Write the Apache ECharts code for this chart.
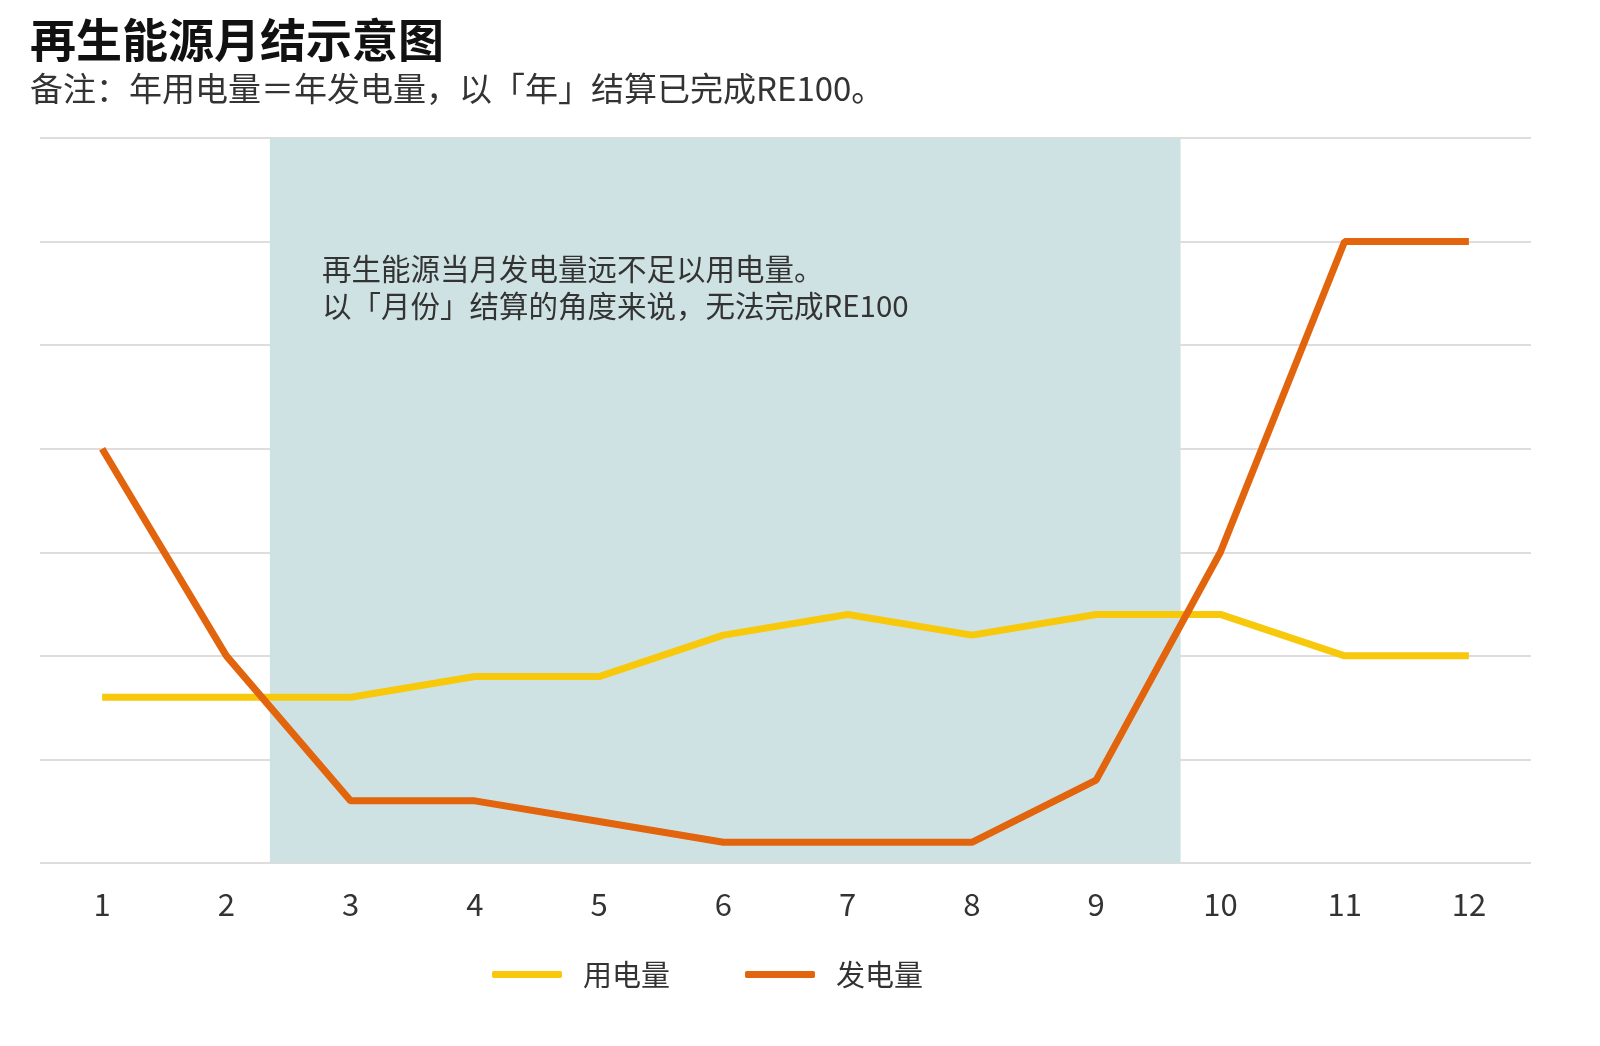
<!DOCTYPE html>
<html><head><meta charset="utf-8">
<script src="https://cdn.jsdelivr.net/npm/echarts@6/dist/echarts.min.js"></script>
<style>html,body{margin:0;padding:0;background:#fff}#c{width:1600px;height:1046px}</style>
</head><body><div id="c"></div>
<script>
const months = ['1','2','3','4','5','6','7','8','9','10','11','12'];
const usage = [1.6,1.6,1.6,1.8,1.8,2.2,2.4,2.2,2.4,2.4,2.0,2.0];
const generation = [4.0,2.0,0.6,0.6,0.4,0.2,0.2,0.2,0.8,3.0,6.0,6.0];
const shadeRange = [2.35, 9.68];
const seriesNames = ['用电量','发电量'];
const titleText = '再生能源月结示意图';
const subText = '备注：年用电量＝年发电量，以「年」结算已完成RE100。';
const noteText = '再生能源当月发电量远不足以用电量。\n以「月份」结算的角度来说，无法完成RE100';

const font = '"Noto Sans CJK SC","Noto Sans",sans-serif';
const chart = echarts.init(document.getElementById('c'));
chart.setOption({
  backgroundColor:'#fff',
  animation:false,
  textStyle:{fontFamily:font},
  title:[
    {text:titleText,left:25,top:10,textStyle:{fontSize:46,fontWeight:'bold',color:'#111',lineHeight:50,fontFamily:font}},
    {text:subText,left:25,top:66,textStyle:{fontSize:33,fontWeight:'normal',color:'#333',lineHeight:34,fontFamily:font}},
    {text:noteText,left:317,top:245,textStyle:{fontSize:29.5,fontWeight:'normal',color:'#333',lineHeight:37,fontFamily:font}}
  ],
  legend:{
    data:seriesNames,top:955,left:487,itemWidth:70,itemHeight:7,itemGap:75,
    icon:'roundRect',
    textStyle:{fontSize:29,color:'#333',fontFamily:font,padding:[0,0,0,16]}
  },
  grid:{left:40,right:69,top:138,bottom:183},
  xAxis:[
    {type:'category',data:months,boundaryGap:true,
     axisLine:{show:false},axisTick:{show:false},
     axisLabel:{fontSize:31,color:'#333',margin:26,fontFamily:font}},
    {type:'value',min:0.5,max:12.5,show:false}
  ],
  yAxis:{type:'value',min:0,max:7,interval:1,
    axisLabel:{show:false},axisLine:{show:false},axisTick:{show:false},
    splitLine:{lineStyle:{color:'#e0dcdc',width:2}}},
  series:[
    {type:'line',name:'shade',xAxisIndex:1,data:[],z:-1,silent:true,
     markArea:{silent:true,itemStyle:{color:'#cfe2e3'},
       data:[[{xAxis:shadeRange[0]},{xAxis:shadeRange[1]}]]}},
    {type:'line',name:seriesNames[0],data:usage,symbol:'none',
     lineStyle:{color:'#f8c80a',width:7},itemStyle:{color:'#f8c80a'}},
    {type:'line',name:seriesNames[1],data:generation,symbol:'none',
     lineStyle:{color:'#e2640c',width:7},itemStyle:{color:'#e2640c'}}
  ]
});
</script></body></html>
